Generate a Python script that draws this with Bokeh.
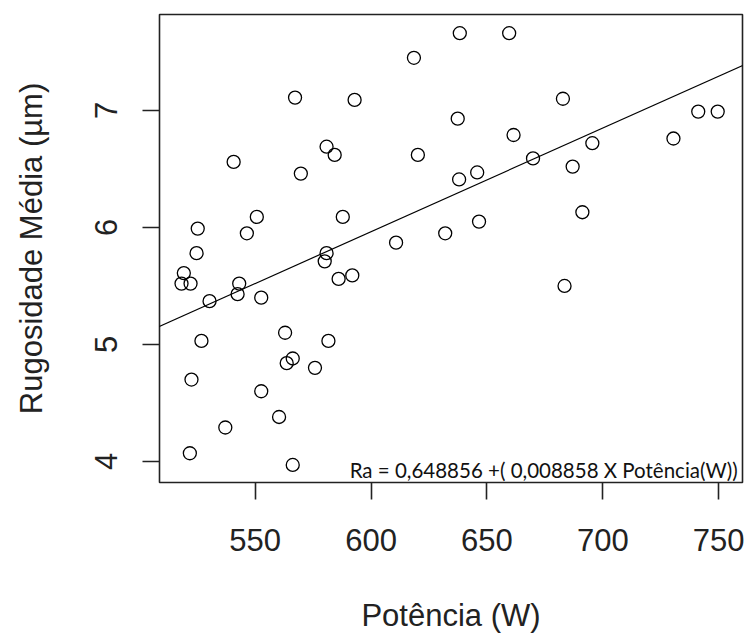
from bokeh.plotting import figure
from bokeh.models import Range1d, FixedTicker, Label, Slope
from bokeh.embed import file_html
from bokeh.resources import INLINE

potencia = [618.5, 567.2, 592.9, 580.8, 584.3, 540.7, 620.2, 569.7, 550.7, 587.8,
            525.2, 546.4, 610.8, 524.7, 580.8, 580.0, 519.2, 518.2, 522.1, 543.1,
            542.4, 530.3, 552.6, 586.0, 591.9, 526.8, 562.9, 581.6, 566.2, 563.6,
            575.8, 522.5, 552.6, 560.3, 537.1, 521.8, 566.2, 638.3, 659.6, 682.8,
            637.4, 741.2, 749.6, 661.5, 730.5, 695.5, 669.9, 687.0, 645.8, 638.0,
            691.2, 646.6, 632.0, 683.5]
rugosidade = [7.45, 7.11, 7.09, 6.69, 6.62, 6.56, 6.62, 6.46, 6.09, 6.09,
              5.99, 5.95, 5.87, 5.78, 5.78, 5.71, 5.61, 5.52, 5.52, 5.52,
              5.43, 5.37, 5.40, 5.56, 5.59, 5.03, 5.10, 5.03, 4.88, 4.84,
              4.80, 4.70, 4.60, 4.38, 4.29, 4.07, 3.97, 7.66, 7.66, 7.10,
              6.93, 6.99, 6.99, 6.79, 6.76, 6.72, 6.59, 6.52, 6.47, 6.41,
              6.13, 6.05, 5.95, 5.50]
intercept = 0.648856
slope = 0.008858
x_ticks = [550, 600, 650, 700, 750]
y_ticks = [4, 5, 6, 7]
equation = "Ra = 0,648856 +( 0,008858 X Potência(W))"
x_title = "Potência (W)"
y_title = "Rugosidade Média (µm)"

p = figure(width=748, height=635, output_backend="svg", toolbar_location=None,
           x_range=Range1d(508.7, 760.3), y_range=Range1d(3.82, 7.82),
           min_border_left=159, min_border_right=6, min_border_top=14,
           min_border_bottom=153)
p.background_fill_color = "white"
p.border_fill_color = "white"
p.xgrid.visible = False
p.ygrid.visible = False
p.outline_line_color = "#222222"
p.outline_line_width = 1.6

p.scatter(potencia, rugosidade, marker="circle", size=13, fill_color=None,
          line_color="black", line_width=1.3)
p.add_layout(Slope(gradient=slope, y_intercept=intercept, line_color="black",
                   line_width=1.2))

p.add_layout(Label(x=758.2, y=3.93, text=equation, text_align="right",
                   text_baseline="alphabetic", text_font="Lato", text_font_size="20.5px",
                   text_color="#111111"))

for ax in (p.xaxis[0], p.yaxis[0]):
    ax.axis_line_color = None
    ax.major_tick_out = 17
    ax.major_tick_in = 0
    ax.minor_tick_out = 0
    ax.minor_tick_in = 0
    ax.major_tick_line_color = "#222222"
    ax.major_tick_line_width = 1.6
    ax.major_label_text_font = "Liberation Sans"
    ax.major_label_text_font_size = "31px"
    ax.major_label_text_color = "#222222"
    ax.axis_label_text_font = "Liberation Sans"
    ax.axis_label_text_font_size = "31px"
    ax.axis_label_text_font_style = "normal"
    ax.axis_label_text_color = "#222222"

p.xaxis[0].ticker = FixedTicker(ticks=x_ticks)
p.yaxis[0].ticker = FixedTicker(ticks=y_ticks)
p.xaxis[0].axis_label = x_title
p.yaxis[0].axis_label = y_title
p.xaxis[0].major_label_standoff = 29
p.xaxis[0].axis_label_standoff = 44
p.yaxis[0].major_label_orientation = "vertical"
p.yaxis[0].major_label_standoff = 25
p.yaxis[0].axis_label_standoff = 44

open("out.html", "w").write(file_html(p, INLINE))
